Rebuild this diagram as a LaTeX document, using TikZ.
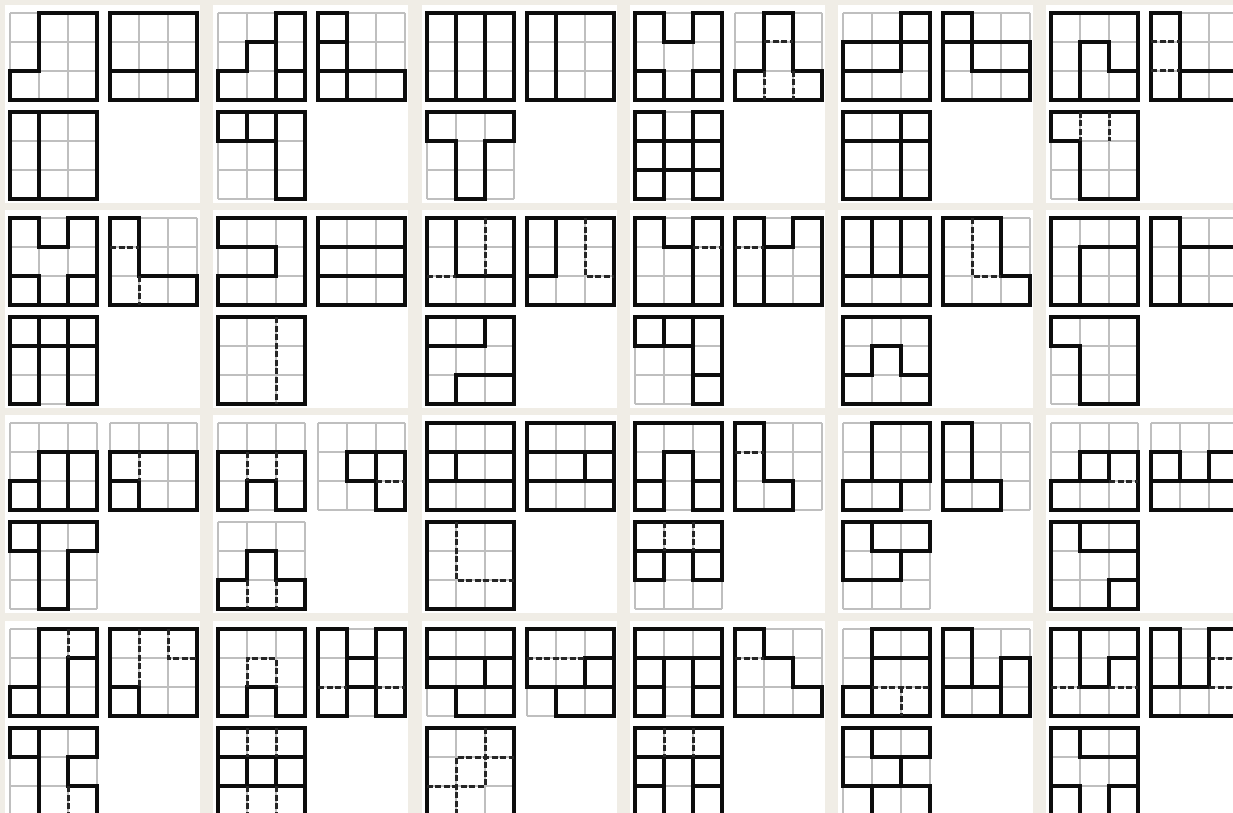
\documentclass[tikz,border=0pt]{standalone}
\usepackage{tikz}
\definecolor{paper}{RGB}{240,237,230}

% one 3x3 board, #1/#2 = top left corner (px), #3 = its walls
\newcommand\puzgrid[3]{%
  \begin{scope}[shift={(#1,#2)},x=29pt,y=-29pt]
    \foreach \i in {0,...,3} {
      \draw[cellline] (\i,0) -- (\i,3);
      \draw[cellline] (0,\i) -- (3,\i);
    }
    #3
  \end{scope}}
% one card: two boards on top, one below
\newcommand\puzpanel[5]{%
  \fill[white] (#1-5,#2-8) rectangle (#1+190,#2+190);
  \puzgrid{#1}{#2}{#3}
  \puzgrid{#1+100}{#2}{#4}
  \puzgrid{#1}{#2+99}{#5}}

\begin{document}
\begin{tikzpicture}[x=1pt,y=-1pt,
  cellline/.style={black!25,line width=1.1pt},
  wall/.style={black!95,line width=3.3pt,line cap=rect,line join=miter},
  seam/.style={black!85,line width=3pt,dash pattern=on 6pt off 2.5pt}]
\useasboundingbox (0,0) rectangle (1233,813);
\clip (0,0) rectangle (1233,813);
\fill[paper] (0,0) rectangle (1233,813);

% ---- row 1
\puzpanel{10}{13}
  {\draw[wall] (1,0)--(3,0)--(3,3)--(0,3)--(0,2)--(1,2)--cycle;}
  {\draw[wall] (0,0) rectangle (3,3) (0,2)--(3,2);}
  {\draw[wall] (0,0) rectangle (3,3) (1,0)--(1,3);}
\puzpanel{218}{13}
  {\draw[wall] (2,0)--(3,0)--(3,3)--(0,3)--(0,2)--(1,2)--(1,1)--(2,1)--cycle (2,1)--(2,3) (2,2)--(3,2);}
  {\draw[wall] (0,0)--(1,0)--(1,2)--(3,2)--(3,3)--(0,3)--cycle (0,1)--(1,1) (0,2)--(1,2) (1,2)--(1,3);}
  {\draw[wall] (0,0)--(3,0)--(3,3)--(2,3)--(2,1)--(0,1)--cycle (1,0)--(1,1) (2,0)--(2,1);}
\puzpanel{427}{13}
  {\draw[wall] (0,0) rectangle (3,3) (1,0)--(1,3) (2,0)--(2,3);}
  {\draw[wall] (0,0) rectangle (3,3) (1,0)--(1,3);}
  {\draw[wall] (0,0)--(3,0)--(3,1)--(2,1)--(2,3)--(1,3)--(1,1)--(0,1)--cycle;}
\puzpanel{635}{13}
  {\draw[wall] (0,0)--(1,0)--(1,1)--(2,1)--(2,0)--(3,0)--(3,3)--(0,3)--cycle (0,2)--(1,2)--(1,3) (3,2)--(2,2)--(2,3);}
  {\draw[wall] (1,0)--(2,0)--(2,2)--(3,2)--(3,3)--(0,3)--(0,2)--(1,2)--cycle;
   \draw[seam] (1,1)--(2,1) (1,2)--(1,3) (2,2)--(2,3);}
  {\draw[wall] (1,0)--(0,0)--(0,3)--(1,3) (2,0)--(3,0)--(3,3)--(2,3) (0,1)--(3,1) (0,2)--(3,2) (1,0)--(1,3) (2,0)--(2,3);}
\puzpanel{843}{13}
  {\draw[wall] (2,0)--(3,0)--(3,3)--(0,3)--(0,1)--(2,1)--cycle (2,1)--(3,1) (0,2)--(2,2)--(2,1);}
  {\draw[wall] (0,0)--(1,0)--(1,1)--(3,1)--(3,3)--(0,3)--cycle (0,1)--(1,1) (1,1)--(1,2)--(3,2);}
  {\draw[wall] (0,0) rectangle (3,3) (0,1)--(3,1) (2,0)--(2,3);}
\puzpanel{1051}{13}
  {\draw[wall] (0,0) rectangle (3,3) (1,3)--(1,1)--(2,1)--(2,2)--(3,2);}
  {\draw[wall] (0,0)--(1,0)--(1,2)--(3,2)--(3,3)--(0,3)--cycle (1,2)--(1,3);
   \draw[seam] (0,1)--(1,1) (0,2)--(1,2);}
  {\draw[wall] (0,0)--(3,0)--(3,3)--(1,3)--(1,1)--(0,1)--cycle;
   \draw[seam] (1,0)--(1,1) (2,0)--(2,1);}

% ---- row 2
\puzpanel{10}{218}
  {\draw[wall] (0,0)--(1,0)--(1,1)--(2,1)--(2,0)--(3,0)--(3,3)--(0,3)--cycle (0,2)--(1,2)--(1,3) (3,2)--(2,2)--(2,3);}
  {\draw[wall] (0,0)--(1,0)--(1,2)--(3,2)--(3,3)--(0,3)--cycle;
   \draw[seam] (0,1)--(1,1) (1,2)--(1,3);}
  {\draw[wall] (1,3)--(0,3)--(0,0)--(3,0)--(3,3)--(2,3) (0,1)--(3,1) (1,0)--(1,3) (2,0)--(2,3);}
\puzpanel{218}{218}
  {\draw[wall] (0,0)--(3,0)--(3,3)--(0,3)--(0,2)--(2,2)--(2,1)--(0,1)--cycle;}
  {\draw[wall] (0,0) rectangle (3,3) (0,1)--(3,1) (0,2)--(3,2);}
  {\draw[wall] (0,0) rectangle (3,3);
   \draw[seam] (2,0)--(2,3);}
\puzpanel{427}{218}
  {\draw[wall] (0,0) rectangle (3,3) (1,0)--(1,2)--(3,2);
   \draw[seam] (0,2)--(1,2) (2,0)--(2,2);}
  {\draw[wall] (0,0) rectangle (3,3) (1,0)--(1,2)--(0,2);
   \draw[seam] (2,0)--(2,2)--(3,2);}
  {\draw[wall] (0,0) rectangle (3,3) (0,1)--(2,1)--(2,0) (1,3)--(1,2)--(3,2);}
\puzpanel{635}{218}
  {\draw[wall] (0,0)--(1,0)--(1,1)--(2,1)--(2,0)--(3,0)--(3,3)--(0,3)--cycle (2,1)--(2,3);
   \draw[seam] (2,1)--(3,1);}
  {\draw[wall] (0,0)--(1,0)--(1,1)--(2,1)--(2,0)--(3,0)--(3,3)--(0,3)--cycle (1,1)--(1,3);
   \draw[seam] (0,1)--(1,1);}
  {\draw[wall] (0,0)--(3,0)--(3,3)--(2,3)--(2,1)--(0,1)--cycle (1,0)--(1,1) (2,0)--(2,1) (2,2)--(3,2);}
\puzpanel{843}{218}
  {\draw[wall] (0,0) rectangle (3,3) (1,0)--(1,2) (2,0)--(2,2) (0,2)--(3,2);}
  {\draw[wall] (0,0)--(2,0)--(2,2)--(3,2)--(3,3)--(0,3)--cycle;
   \draw[seam] (1,0)--(1,2)--(2,2);}
  {\draw[wall] (0,0) rectangle (3,3) (0,2)--(1,2)--(1,1)--(2,1)--(2,2)--(3,2);}
\puzpanel{1051}{218}
  {\draw[wall] (0,0) rectangle (3,3) (1,3)--(1,1)--(3,1);}
  {\draw[wall] (0,0)--(1,0)--(1,1)--(3,1)--(3,3)--(0,3)--cycle (1,1)--(1,3);}
  {\draw[wall] (0,0)--(3,0)--(3,3)--(1,3)--(1,1)--(0,1)--cycle;}

% ---- row 3
\puzpanel{10}{423}
  {\draw[wall] (1,1)--(3,1)--(3,3)--(0,3)--(0,2)--(1,2)--cycle (2,1)--(2,3) (1,2)--(1,3);}
  {\draw[wall] (0,1)--(3,1)--(3,3)--(0,3)--cycle (0,2)--(1,2)--(1,3);
   \draw[seam] (1,1)--(1,2);}
  {\draw[wall] (0,0)--(3,0)--(3,1)--(2,1)--(2,3)--(1,3)--(1,1)--(0,1)--cycle (1,0)--(1,1);}
\puzpanel{218}{423}
  {\draw[wall] (0,1)--(3,1)--(3,3)--(2,3)--(2,2)--(1,2)--(1,3)--(0,3)--cycle;
   \draw[seam] (1,1)--(1,2) (2,1)--(2,2);}
  {\draw[wall] (1,1)--(3,1)--(3,3)--(2,3)--(2,2)--(1,2)--cycle (2,1)--(2,2);
   \draw[seam] (2,2)--(3,2);}
  {\draw[wall] (1,1)--(2,1)--(2,2)--(3,2)--(3,3)--(0,3)--(0,2)--(1,2)--cycle;
   \draw[seam] (1,2)--(1,3) (2,2)--(2,3);}
\puzpanel{427}{423}
  {\draw[wall] (0,0) rectangle (3,3) (0,1)--(3,1) (1,1)--(1,2) (0,2)--(3,2);}
  {\draw[wall] (0,0) rectangle (3,3) (0,1)--(3,1) (2,1)--(2,2) (0,2)--(3,2);}
  {\draw[wall] (0,0) rectangle (3,3);
   \draw[seam] (1,0)--(1,2)--(3,2);}
\puzpanel{635}{423}
  {\draw[wall] (0,0)--(3,0)--(3,3)--(2,3)--(2,1)--(1,1)--(1,3)--(0,3)--cycle (0,2)--(1,2) (2,2)--(3,2);}
  {\draw[wall] (0,0)--(1,0)--(1,2)--(2,2)--(2,3)--(0,3)--cycle;
   \draw[seam] (0,1)--(1,1);}
  {\draw[wall] (0,0)--(3,0)--(3,2)--(2,2)--(2,1)--(1,1)--(1,2)--(0,2)--cycle (0,1)--(1,1) (2,1)--(3,1);
   \draw[seam] (1,0)--(1,1) (2,0)--(2,1);}
\puzpanel{843}{423}
  {\draw[wall] (1,0)--(3,0)--(3,2)--(2,2)--(2,3)--(0,3)--(0,2)--(1,2)--cycle (1,2)--(2,2);}
  {\draw[wall] (0,0)--(1,0)--(1,2)--(2,2)--(2,3)--(0,3)--cycle (0,2)--(1,2);}
  {\draw[wall] (0,0)--(3,0)--(3,1)--(2,1)--(2,2)--(0,2)--cycle (1,0)--(1,1)--(2,1);}
\puzpanel{1051}{423}
  {\draw[wall] (1,1)--(3,1)--(3,3)--(0,3)--(0,2)--(1,2)--cycle (2,1)--(2,2) (1,2)--(2,2);
   \draw[seam] (2,2)--(3,2);}
  {\draw[wall] (0,1)--(1,1)--(1,2)--(2,2)--(2,1)--(3,1)--(3,3)--(0,3)--cycle (0,2)--(1,2) (2,2)--(3,2);}
  {\draw[wall] (0,0) rectangle (3,3) (1,0)--(1,1)--(3,1) (2,3)--(2,2)--(3,2);}

% ---- row 4
\puzpanel{10}{629}
  {\draw[wall] (1,0)--(3,0)--(3,3)--(0,3)--(0,2)--(1,2)--cycle (1,2)--(1,3) (2,3)--(2,1)--(3,1);
   \draw[seam] (2,0)--(2,1);}
  {\draw[wall] (0,0) rectangle (3,3) (0,2)--(1,2)--(1,3);
   \draw[seam] (1,0)--(1,2) (2,0)--(2,1)--(3,1);}
  {\draw[wall] (0,0)--(3,0)--(3,1)--(2,1)--(2,2)--(3,2)--(3,3)--(1,3)--(1,1)--(0,1)--cycle (1,0)--(1,1);
   \draw[seam] (2,2)--(2,3);}
\puzpanel{218}{629}
  {\draw[wall] (0,0)--(3,0)--(3,3)--(2,3)--(2,2)--(1,2)--(1,3)--(0,3)--cycle;
   \draw[seam] (1,2)--(1,1)--(2,1)--(2,2);}
  {\draw[wall] (1,0)--(0,0)--(0,3)--(1,3) (2,0)--(3,0)--(3,3)--(2,3) (1,0)--(1,3) (2,0)--(2,3) (1,1)--(2,1) (1,2)--(2,2);
   \draw[seam] (0,2)--(1,2) (2,2)--(3,2);}
  {\draw[wall] (0,0) rectangle (3,3) (0,1)--(3,1) (0,2)--(3,2) (1,1)--(1,2) (2,1)--(2,2);
   \draw[seam] (1,0)--(1,1) (2,0)--(2,1) (1,2)--(1,3) (2,2)--(2,3);}
\puzpanel{427}{629}
  {\draw[wall] (0,0)--(3,0)--(3,3)--(1,3)--(1,2)--(0,2)--cycle (0,1)--(3,1) (2,1)--(2,2) (1,2)--(3,2);}
  {\draw[wall] (0,0)--(3,0)--(3,3)--(1,3)--(1,2)--(0,2)--cycle (2,1)--(3,1) (2,1)--(2,2) (1,2)--(3,2);
   \draw[seam] (0,1)--(2,1);}
  {\draw[wall] (0,0) rectangle (3,3);
   \draw[seam] (2,0)--(2,2)--(0,2) (1,3)--(1,1)--(3,1);}
\puzpanel{635}{629}
  {\draw[wall] (0,0)--(3,0)--(3,3)--(2,3)--(2,1)--(1,1)--(1,3)--(0,3)--cycle (0,1)--(1,1) (2,1)--(3,1) (0,2)--(1,2) (2,2)--(3,2);}
  {\draw[wall] (0,0)--(1,0)--(1,1)--(2,1)--(2,2)--(3,2)--(3,3)--(0,3)--cycle;
   \draw[seam] (0,1)--(1,1);}
  {\draw[wall] (0,0) rectangle (3,3) (0,1)--(3,1) (1,1)--(1,3) (2,1)--(2,3) (0,2)--(1,2) (2,2)--(3,2);
   \draw[seam] (1,0)--(1,1) (2,0)--(2,1);}
\puzpanel{843}{629}
  {\draw[wall] (1,0)--(3,0)--(3,3)--(0,3)--(0,2)--(1,2)--cycle (1,1)--(3,1) (1,2)--(1,3);
   \draw[seam] (1,2)--(3,2) (2,2)--(2,3);}
  {\draw[wall] (0,0)--(1,0)--(1,2)--(2,2)--(2,1)--(3,1)--(3,3)--(0,3)--cycle (0,2)--(1,2) (2,2)--(2,3);}
  {\draw[wall] (1,0)--(1,1)--(3,1)--(3,0)--(0,0)--(0,2)--(3,2)--(3,3)--(1,3)--(1,2) (2,1)--(2,2);}
\puzpanel{1051}{629}
  {\draw[wall] (0,0) rectangle (3,3) (1,0)--(1,2)--(2,2)--(2,1)--(3,1);
   \draw[seam] (0,2)--(1,2) (2,2)--(3,2);}
  {\draw[wall] (0,0)--(1,0)--(1,2)--(2,2)--(2,0)--(3,0)--(3,3)--(0,3)--cycle (0,2)--(1,2);
   \draw[seam] (2,1)--(3,1) (2,2)--(3,2);}
  {\draw[wall] (0,3)--(0,0)--(3,0)--(3,3) (1,0)--(1,1)--(3,1) (0,2)--(1,2)--(1,3) (2,3)--(2,2)--(3,2) (0,3)--(1,3) (2,3)--(3,3);}
\end{tikzpicture}
\end{document}
